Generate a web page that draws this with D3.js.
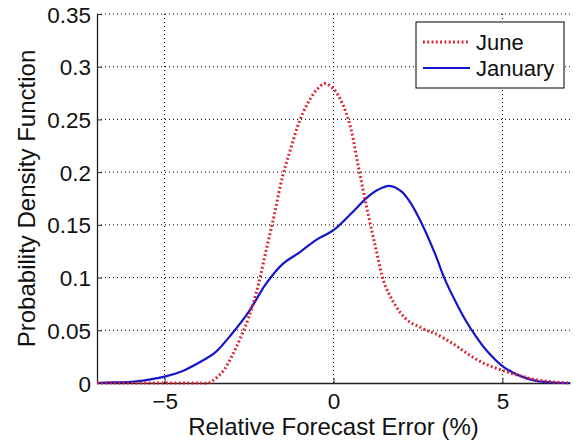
<!DOCTYPE html>
<html>
<head>
<meta charset="utf-8">
<script src="https://cdn.jsdelivr.net/npm/d3@7"></script>
<style>
    body { margin: 0; background: #fff; }
    svg { display: block; font-family: "Liberation Sans", Arial, sans-serif; }
    .grid line { stroke: #000; stroke-width: 1; stroke-dasharray: 1,3; }
    .axis path, .axis line { stroke: #222; }
    .axis text { font-size: 22.5px; fill: #111; }
    .axis-title { font-size: 24px; fill: #111; }
    .legend text { font-size: 22px; fill: #111; }
</style>
</head>
<body>
<svg id="chart"></svg>
<script>
// relative forecast error (%) and pdf values
const juneX = [-7, -4, -3.7, -3.5, -3.25, -3, -2.75, -2.5, -2.25, -2, -1.75, -1.5, -1.25, -1, -0.75, -0.5, -0.25,
    0, 0.25, 0.5, 0.75, 1, 1.25, 1.5, 1.75, 2, 2.25, 2.5, 2.75, 3, 3.5, 4, 4.5, 5, 5.5, 6, 6.5, 7];
const juneY = [0, 0, 0, 0.004, 0.012, 0.026, 0.043, 0.063, 0.09, 0.125, 0.16, 0.197, 0.224, 0.249, 0.266, 0.278, 0.284,
    0.279, 0.266, 0.243, 0.203, 0.164, 0.128, 0.095, 0.078, 0.066, 0.058, 0.054, 0.05, 0.047, 0.038, 0.027, 0.018, 0.012, 0.007, 0.003, 0.001, 0];

const janX = [-7, -6.5, -6, -5.5, -5, -4.5, -4, -3.5, -3, -2.5, -2, -1.5, -1, -0.5, 0, 0.5, 1, 1.3, 1.65, 2, 2.3, 2.6,
    3, 3.3, 3.6, 3.9, 4.2, 4.5, 5, 5.5, 6, 6.5, 7];
const janY = [0, 0.0005, 0.001, 0.003, 0.006, 0.011, 0.019, 0.029, 0.047, 0.068, 0.094, 0.113, 0.124, 0.136, 0.145, 0.16, 0.176, 0.183, 0.187, 0.182, 0.17, 0.152,
    0.123, 0.098, 0.078, 0.06, 0.045, 0.032, 0.016, 0.007, 0.002, 0.0005, 0];

const xTicks = [-5, 0, 5];
const yTicks = [0, 0.05, 0.1, 0.15, 0.2, 0.25, 0.3, 0.35];
const seriesNames = ['June', 'January'];

const config = {
    width: 579,
    height: 447,
    margin: { top: 14, right: 9, bottom: 64, left: 97 }
};

const width = config.width - config.margin.left - config.margin.right;
const height = config.height - config.margin.top - config.margin.bottom;

const svg = d3.select('#chart')
    .attr('width', config.width)
    .attr('height', config.height);

const chart = svg.append('g')
    .attr('transform', `translate(${config.margin.left},${config.margin.top})`);

const xScale = d3.scaleLinear().domain([-7, 7]).range([0, width]);
const yScale = d3.scaleLinear().domain([0, 0.35]).range([height, 0]);

// dotted grid
chart.append('g').attr('class', 'grid')
    .selectAll('line').data(xTicks).join('line')
    .attr('x1', d => xScale(d)).attr('x2', d => xScale(d))
    .attr('y1', 0).attr('y2', height);
chart.append('g').attr('class', 'grid')
    .selectAll('line').data(yTicks.filter(d => d > 0)).join('line')
    .attr('x1', 0).attr('x2', width)
    .attr('y1', d => yScale(d)).attr('y2', d => yScale(d));

// axes, ticks pointing inwards like matlab
const xAxis = d3.axisBottom(xScale).tickValues(xTicks).tickSize(-5).tickSizeOuter(0).tickPadding(10).tickFormat(d3.format('d'));
const yAxis = d3.axisLeft(yScale).tickValues(yTicks).tickSize(-5).tickSizeOuter(0).tickPadding(6).tickFormat(d => d === 0 ? '0' : String(+d.toFixed(2)));

chart.append('g').attr('class', 'axis x-axis')
    .attr('transform', `translate(0,${height})`)
    .call(xAxis)
    .call(g => g.select('.domain').attr('stroke-width', 1.3));
chart.append('g').attr('class', 'axis y-axis')
    .call(yAxis)
    .call(g => g.select('.domain').attr('stroke-width', 1.3))
    .call(g => g.selectAll('text').attr('dy', '0.36em'));

const line = d3.line()
    .x(d => xScale(d[0]))
    .y(d => yScale(d[1]))
    .curve(d3.curveCatmullRom.alpha(0.5));

const juneData = juneX.map((x, i) => [x, juneY[i]]);
const janData = janX.map((x, i) => [x, janY[i]]);

chart.append('path')
    .datum(janData)
    .attr('fill', 'none')
    .attr('stroke', '#1515cc')
    .attr('stroke-width', 2.2)
    .attr('d', line);

chart.append('path')
    .datum(juneData)
    .attr('fill', 'none')
    .attr('stroke', '#dd1a2a')
    .attr('stroke-width', 3)
    .attr('stroke-dasharray', '1.8,2.5')
    .attr('d', line);

// axis titles
svg.append('text')
    .attr('class', 'axis-title')
    .attr('x', config.margin.left + width / 2)
    .attr('y', 435)
    .attr('text-anchor', 'middle')
    .text('Relative Forecast Error (%)');

svg.append('text')
    .attr('class', 'axis-title')
    .attr('transform', 'rotate(-90)')
    .attr('x', -(config.margin.top + height / 2))
    .attr('y', 35)
    .attr('text-anchor', 'middle')
    .text('Probability Density Function');

// legend
const legend = svg.append('g').attr('class', 'legend')
    .attr('transform', 'translate(416,22)');
legend.append('rect')
    .attr('width', 148).attr('height', 66)
    .attr('fill', '#fff').attr('stroke', '#000').attr('stroke-width', 1);

const entry = legend.selectAll('.legend-entry')
    .data(seriesNames)
    .join('g')
    .attr('class', 'legend-entry')
    .attr('transform', (d, i) => `translate(0,${20 + i * 26})`);

entry.append('line')
    .attr('x1', 7).attr('x2', 54)
    .attr('stroke', d => d === 'June' ? '#dd1a2a' : '#1515cc')
    .attr('stroke-width', d => d === 'June' ? 3 : 2.2)
    .attr('stroke-dasharray', d => d === 'June' ? '1.8,2.5' : null);

entry.append('text')
    .attr('x', 60)
    .attr('y', 8)
    .text(d => d);
</script>
</body>
</html>
